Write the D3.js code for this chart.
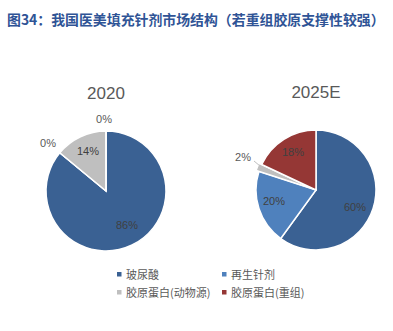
<!DOCTYPE html>
<html>
<head>
<meta charset="utf-8">
<script src="https://cdn.jsdelivr.net/npm/d3@7"></script>
<style>
  html, body { margin: 0; padding: 0; background: #fff; }
  body { width: 393px; height: 331px; overflow: hidden; font-family: "Noto Sans CJK SC", "Noto Sans", sans-serif; }
</style>
</head>
<body>
<div id="chart"></div>
<script>
const categories = ['玻尿酸', '再生针剂', '胶原蛋白(动物源)', '胶原蛋白(重组)'];
const colors = ['#3A6193', '#4F81BD', '#BFBFBF', '#953735'];
const years = ['2020', '2025E'];
const values2020 = [86, 0, 14, 0];
const values2025 = [60, 20, 2, 18];
const titleText = '图34：我国医美填充针剂市场结构（若重组胶原支撑性较强）';

const w = 393, h = 331;
const svg = d3.select('#chart').append('svg').attr('width', w).attr('height', h);

svg.append('text')
    .attr('x', 7).attr('y', 25)
    .attr('font-size', 13.9)
    .attr('font-weight', 'bold')
    .attr('fill', '#2F5496')
    .text(titleText);

const pie = d3.pie().sort(null).value(d => d);
const r = 60;
const arc = d3.arc().innerRadius(0).outerRadius(r);

function drawPie(cx, cy, vals, year, labelPos, explode) {
    const g = svg.append('g').attr('transform', `translate(${cx},${cy})`);
    svg.append('text')
        .attr('x', cx).attr('y', cy - 92)
        .attr('text-anchor', 'middle')
        .attr('font-size', 17)
        .attr('font-family', 'Liberation Sans, Arial, sans-serif')
        .attr('fill', '#595959')
        .text(year);

    const arcs = pie(vals);
    g.selectAll('path')
        .data(arcs)
        .join('path')
        .attr('d', arc)
        .attr('transform', (d, i) => {
            const e = explode[i] || 0;
            if (!e) return null;
            const a = (d.startAngle + d.endAngle) / 2;
            return `translate(${Math.sin(a) * e},${-Math.cos(a) * e})`;
        })
        .attr('fill', (d, i) => colors[i])
        .attr('stroke', '#fff')
        .attr('stroke-width', 1.5);

    arcs.forEach((d, i) => {
        const p = labelPos[i];
        if (p.line) {
            g.append('line')
                .attr('x1', p.line[0]).attr('y1', p.line[1])
                .attr('x2', p.line[2]).attr('y2', p.line[3])
                .attr('stroke', '#BFBFBF').attr('stroke-width', 1);
        }
        g.append('text')
            .attr('x', p.x).attr('y', p.y)
            .attr('text-anchor', 'middle')
            .attr('dominant-baseline', 'central')
            .attr('font-size', 11)
            .attr('font-family', 'Liberation Sans, Arial, sans-serif')
            .attr('fill', p.outside ? '#595959' : '#404040')
            .text(d.data + '%');
    });
}

// label offsets relative to pie center
drawPie(106, 191, values2020, years[0], [
    { x: 21, y: 34 },
    { x: -58, y: -48, outside: true },
    { x: -18, y: -40 },
    { x: -2, y: -72, outside: true }
], [0, 0, 0, 0]);
drawPie(316, 190, values2025, years[1], [
    { x: 39, y: 17 },
    { x: -42, y: 11 },
    { x: -73, y: -33, outside: true, line: [-62, -29, -56, -24] },
    { x: -23, y: -38 }
], [0, 0, 3, 0]);

// legend
const legendPos = [[119, 274], [224, 274], [119, 292], [224, 292]];
categories.forEach((c, i) => {
    const [lx, ly] = legendPos[i];
    svg.append('rect')
        .attr('x', lx - 2).attr('y', ly - 2)
        .attr('width', 4.5).attr('height', 4.5)
        .attr('fill', colors[i]);
    svg.append('text')
        .attr('x', lx + 7).attr('y', ly)
        .attr('dominant-baseline', 'central')
        .attr('font-size', 11)
        .attr('fill', '#595959')
        .text(c);
});
</script>
</body>
</html>
